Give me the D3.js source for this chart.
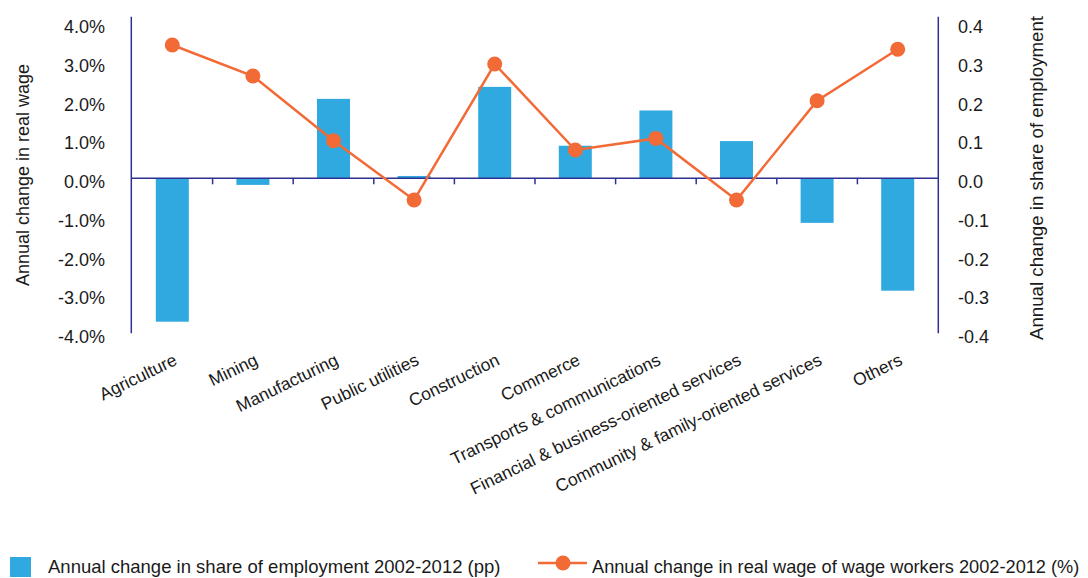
<!DOCTYPE html>
<html>
<head>
<meta charset="utf-8">
<script src="https://cdn.jsdelivr.net/npm/d3@7"></script>
<style>
  body { margin: 0; background: #fff; }
  svg text { font-family: "Liberation Sans", Arial, sans-serif; fill: #1a1a1a; }
</style>
</head>
<body>
<svg width="1088" height="578"></svg>
<script>
var categories = ["Agriculture", "Mining", "Manufacturing", "Public utilities", "Construction",
    "Commerce", "Transports & communications", "Financial & business-oriented services",
    "Community & family-oriented services", "Others"];

// annual change in share of employment 2002-2012 (pp) - right axis
var employmentShare = [-0.37, -0.017, 0.205, 0.006, 0.236, 0.084, 0.175, 0.096, -0.115, -0.29];

// annual change in real wage of wage workers 2002-2012 (%) - left axis
var realWage = [3.44, 2.64, 0.97, -0.56, 2.95, 0.73, 1.03, -0.56, 2.00, 3.33];

var leftTicks = [-4, -3, -2, -1, 0, 1, 2, 3, 4];
var rightTicks = [-0.4, -0.3, -0.2, -0.1, 0, 0.1, 0.2, 0.3, 0.4];

var barColor = "#2fa9df",
    lineColor = "#f26a36",
    axisColor = "#2e3192";

var svg = d3.select("svg"),
    width = +svg.attr("width"),
    height = +svg.attr("height");

var x = d3.scaleBand()
    .domain(categories)
    .range([132, 938]);

var yLeft = d3.scaleLinear().domain([-4, 4]).range([333.3, 23.3]);
var yRight = d3.scaleLinear().domain([-0.4, 0.4]).range([333.3, 23.3]);

var barWidth = 33;

// bars
svg.append("g")
    .selectAll("rect")
    .data(employmentShare)
    .join("rect")
    .attr("x", (d, i) => x(categories[i]) + x.bandwidth() / 2 - barWidth / 2)
    .attr("y", d => yRight(Math.max(0, d)))
    .attr("width", barWidth)
    .attr("height", d => Math.abs(yRight(d) - yRight(0)))
    .attr("fill", barColor);

// category axis on zero line
var catAxis = svg.append("g").attr("stroke", axisColor).attr("stroke-width", 1.5);
catAxis.append("line")
    .attr("x1", x.range()[0]).attr("x2", x.range()[1])
    .attr("y1", yLeft(0)).attr("y2", yLeft(0));
catAxis.selectAll("line.tick")
    .data(categories.slice(1))
    .join("line")
    .attr("class", "tick")
    .attr("x1", d => x(d)).attr("x2", d => x(d))
    .attr("y1", yLeft(0)).attr("y2", yLeft(0) + 6);

// value axes
svg.append("line")
    .attr("x1", 131.3).attr("x2", 131.3)
    .attr("y1", 16.7).attr("y2", yLeft(-4))
    .attr("stroke", axisColor).attr("stroke-width", 1.5);
svg.append("line")
    .attr("x1", 938.3).attr("x2", 938.3)
    .attr("y1", 16.7).attr("y2", yLeft(-4))
    .attr("stroke", axisColor).attr("stroke-width", 1.5);

svg.append("g")
    .selectAll("text")
    .data(leftTicks)
    .join("text")
    .attr("x", 105)
    .attr("y", d => yLeft(d) + 3.4)
    .attr("dy", "0.36em")
    .attr("text-anchor", "end")
    .attr("font-size", 18)
    .text(d => d.toFixed(1) + "%");

svg.append("g")
    .selectAll("text")
    .data(rightTicks)
    .join("text")
    .attr("x", 958)
    .attr("y", d => yRight(d) + 3.4)
    .attr("dy", "0.36em")
    .attr("text-anchor", "start")
    .attr("font-size", 18)
    .text(d => d.toFixed(1));

// axis titles
svg.append("text")
    .attr("transform", "translate(23,175) rotate(-90)")
    .attr("dy", "0.36em")
    .attr("text-anchor", "middle")
    .attr("font-size", 18)
    .text("Annual change in real wage");

svg.append("text")
    .attr("transform", "translate(1036,178) rotate(-90)")
    .attr("dy", "0.36em")
    .attr("text-anchor", "middle")
    .attr("font-size", 18.7)
    .text("Annual change in share of employment");

// category labels
svg.append("g")
    .selectAll("text")
    .data(categories)
    .join("text")
    .attr("transform", d => "translate(" + (x(d) + x.bandwidth() / 2 + 6) + ",364) rotate(-26)")
    .attr("text-anchor", "end")
    .attr("font-size", 17.5)
    .text(d => d);

// real wage line
var line = d3.line()
    .x((d, i) => x(categories[i]) + x.bandwidth() / 2)
    .y(d => yLeft(d));

svg.append("path")
    .datum(realWage)
    .attr("d", line)
    .attr("fill", "none")
    .attr("stroke", lineColor)
    .attr("stroke-width", 2.5);

svg.append("g")
    .selectAll("circle")
    .data(realWage)
    .join("circle")
    .attr("cx", (d, i) => x(categories[i]) + x.bandwidth() / 2)
    .attr("cy", d => yLeft(d))
    .attr("r", 7.5)
    .attr("fill", lineColor);

// legend
var legend = svg.append("g");
legend.append("rect")
    .attr("x", 10).attr("y", 557)
    .attr("width", 21).attr("height", 20)
    .attr("fill", barColor);
legend.append("text")
    .attr("x", 48).attr("y", 566)
    .attr("dy", "0.36em")
    .attr("font-size", 18.5)
    .text("Annual change in share of employment 2002-2012 (pp)");

legend.append("line")
    .attr("x1", 538).attr("x2", 587)
    .attr("y1", 563).attr("y2", 563)
    .attr("stroke", lineColor).attr("stroke-width", 2.5);
legend.append("circle")
    .attr("cx", 563).attr("cy", 563).attr("r", 7.5)
    .attr("fill", lineColor);
legend.append("text")
    .attr("x", 592).attr("y", 566)
    .attr("dy", "0.36em")
    .attr("font-size", 18.2)
    .text("Annual change in real wage of wage workers 2002-2012 (%)");
</script>
</body>
</html>
